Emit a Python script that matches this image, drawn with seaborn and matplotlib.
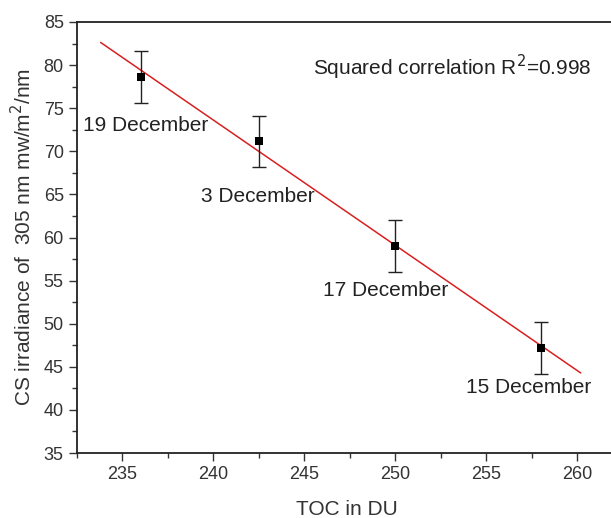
import numpy as np
import pandas as pd
import matplotlib.pyplot as plt
import seaborn as sns

# Data
toc = [236.0, 242.5, 250.0, 258.0]
irradiance = [78.65, 71.15, 59.0, 47.2]
err = [3.0, 3.0, 3.0, 3.05]
dates = ['19 December', '3 December', '17 December', '15 December']
r2_text = 'Squared correlation R$^2$=0.998'

df = pd.DataFrame({'TOC': toc, 'CS': irradiance, 'err': err, 'date': dates})

sns.set_style('ticks')
plt.rcParams['font.family'] = ['Liberation Sans', 'DejaVu Sans']

fig = plt.figure(figsize=(6.11, 5.18), dpi=100)
ax = fig.add_axes([77 / 611, 1 - 453 / 518, 1 - 77 / 611 + 0.01, (453 - 22) / 518])

# linear fit through the points
slope, intercept = np.polyfit(df['TOC'], df['CS'], 1)
xfit = np.array([233.8, 260.2])
ax.plot(xfit, slope * xfit + intercept, color='#d82020', lw=1.1, zorder=2)

ax.errorbar(df['TOC'], df['CS'], yerr=df['err'], fmt='none', ecolor='#222222',
            elinewidth=1.0, capsize=5, capthick=1.0, zorder=3)
sns.scatterplot(data=df, x='TOC', y='CS', marker='s', color='black', s=30,
                edgecolor='black', linewidth=0, ax=ax, zorder=4)

offsets = [(-3.15, -5.6), (-3.2, -6.35), (-4.0, -5.2), (-4.1, -4.65)]
for (x, y, d), (dx, dy) in zip(zip(toc, irradiance, dates), offsets):
    ax.text(x + dx, y + dy, d, ha='left', va='center', fontsize=15, color='#222222')

ax.text(245.5, 79.7, r2_text, ha='left', va='center', fontsize=15, color='#222222')

ax.set_xlim(232.5, 262.2)
ax.set_ylim(35, 85)
ax.set_xticks([235, 240, 245, 250, 255, 260])
ax.set_xticks(np.arange(232.5, 262, 2.5), minor=True)
ax.set_yticks(np.arange(35, 86, 5))
ax.set_yticks(np.arange(37.5, 85, 5), minor=True)
ax.tick_params(which='major', direction='out', length=6, width=1, labelsize=13,
               colors='#333333', labelcolor='#333333')
ax.tick_params(which='minor', direction='out', length=3.5, width=1, colors='#333333')
for s in ['left', 'bottom', 'top']:
    ax.spines[s].set_linewidth(1.3)
    ax.spines[s].set_color('#222222')
ax.spines['right'].set_visible(False)

ax.set_xlabel('TOC in DU', fontsize=15, color='#333333', labelpad=12)
ax.set_ylabel('CS irradiance of  305 nm mw/m$^2$/nm', fontsize=15, color='#333333',
              labelpad=6)

plt.savefig('out.png', dpi=100)
